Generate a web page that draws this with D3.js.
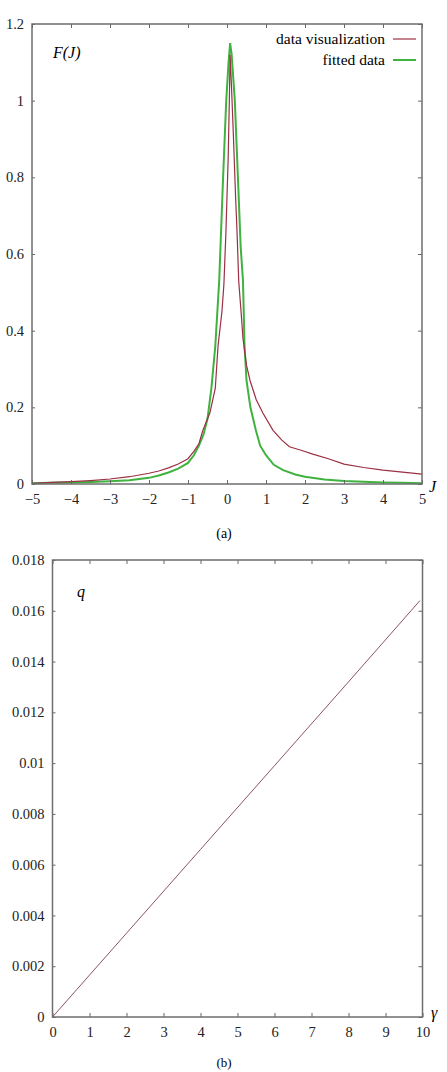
<!DOCTYPE html>
<html>
  <head>
    <meta charset="utf-8">
    <title>F(J) and q</title>
    <script src="https://d3js.org/d3.v7.min.js"></script>
    <style>
      body { margin: 0; background: #fff; }
      svg text { font-family: "Liberation Serif", "DejaVu Serif", serif; }
      .tick line { stroke: #666; }
    </style>
  </head>
  <body>
    <div id="chart"></div>
    <script>
      // panel (a): J positions and F(J) values
      var redJ = [-5, -4.5, -4, -3.5, -3, -2.5, -2, -1.75, -1.5, -1.25, -1, -0.85, -0.72, -0.62, -0.44, -0.3,
                  -0.23, -0.13, -0.08, -0.03, 0.03, 0.06, 0.08, 0.11, 0.16, 0.22, 0.26, 0.3, 0.36, 0.41,
                  0.5, 0.59, 0.75, 0.92, 1.18, 1.4, 1.6, 1.9, 2.2, 2.6, 3, 3.5, 4, 4.5, 5];
      var redF = [0.002, 0.004, 0.006, 0.009, 0.013, 0.019, 0.028, 0.034, 0.042, 0.052, 0.066, 0.085, 0.105, 0.14, 0.185, 0.25,
                  0.36, 0.45, 0.52, 0.65, 0.85, 1.0, 1.12, 1.05, 0.92, 0.75, 0.65, 0.53, 0.45, 0.38,
                  0.31, 0.27, 0.22, 0.185, 0.14, 0.115, 0.097, 0.088, 0.078, 0.066, 0.052, 0.043, 0.036, 0.031, 0.026];
      var greenJ = [-5, -4.5, -4, -3.5, -3, -2.5, -2, -1.75, -1.5, -1.25, -1, -0.85, -0.72, -0.6, -0.5, -0.4,
                    -0.3, -0.2, -0.1, -0.02, 0.04, 0.08, 0.12, 0.2, 0.28, 0.35, 0.41, 0.45, 0.5, 0.6,
                    0.74, 0.85, 1, 1.2, 1.44, 1.75, 2, 2.5, 3, 3.5, 4, 4.5, 5];
      var greenF = [0.002, 0.003, 0.004, 0.005, 0.007, 0.010, 0.016, 0.022, 0.030, 0.040, 0.055, 0.075, 0.10, 0.13, 0.17, 0.25,
                    0.36, 0.53, 0.80, 1.0, 1.1, 1.15, 1.12, 1.0, 0.8, 0.62, 0.53, 0.36, 0.27, 0.2,
                    0.14, 0.10, 0.075, 0.05, 0.036, 0.025, 0.019, 0.012, 0.008, 0.006, 0.004, 0.003, 0.002];
      var aXTicks = [-5, -4, -3, -2, -1, 0, 1, 2, 3, 4, 5];
      var aYTicks = [0, 0.2, 0.4, 0.6, 0.8, 1, 1.2];

      // panel (b): q against gamma
      var gamma = [0, 2, 4, 6, 8, 9.93];
      var qVals = [0, 0.0033, 0.0066, 0.0099, 0.0132, 0.0164];
      var bXTicks = [0, 1, 2, 3, 4, 5, 6, 7, 8, 9, 10];
      var bYTicks = [0, 0.002, 0.004, 0.006, 0.008, 0.01, 0.012, 0.014, 0.016, 0.018];

      var serif = "'Liberation Serif', 'DejaVu Serif', serif";

      var svg = d3.select("#chart").append("svg")
          .attr("width", 447)
          .attr("height", 1072)
          .attr("font-family", serif);

      function fmt(d) { return (+d.toFixed(4)).toString().replace("-", "\u2212"); }

      // draws frame + inward ticks on all four sides
      function frame(x, y, xt, yt) {
          var g = svg.append("g");
          var x0 = x.range()[0], x1 = x.range()[1];
          var y0 = y.range()[0], y1 = y.range()[1];
          g.append("g").attr("transform", "translate(0," + y0 + ")")
              .call(d3.axisBottom(x).tickValues(xt).tickSizeInner(-4).tickSizeOuter(0).tickPadding(10).tickFormat(fmt));
          g.append("g").attr("transform", "translate(0," + y1 + ")")
              .call(d3.axisTop(x).tickValues(xt).tickSizeInner(-4).tickSizeOuter(0).tickFormat(""));
          g.append("g").attr("transform", "translate(" + x0 + ",0)")
              .call(d3.axisLeft(y).tickValues(yt).tickSizeInner(-3).tickSizeOuter(0).tickPadding(8).tickFormat(fmt));
          g.append("g").attr("transform", "translate(" + x1 + ",0)")
              .call(d3.axisRight(y).tickValues(yt).tickSizeInner(-4).tickSizeOuter(0).tickFormat(""));
          g.selectAll(".domain").remove();
          g.selectAll("g").attr("font-family", serif).attr("font-size", 14.5);
          g.selectAll(".tick text").attr("fill", "#222");
          g.append("rect")
              .attr("x", x0).attr("y", y1)
              .attr("width", x1 - x0).attr("height", y0 - y1)
              .attr("fill", "none").attr("stroke", "#6e6e6e").attr("stroke-width", 1.5);
          return g;
      }

      // ---- panel (a)
      var xa = d3.scaleLinear().domain([-5, 5]).range([32, 422]);
      var ya = d3.scaleLinear().domain([0, 1.2]).range([484, 24]);

      var lineA = d3.line().x(function(d) { return xa(d[0]); }).y(function(d) { return ya(d[1]); });

      svg.append("path")
          .datum(d3.zip(greenJ, greenF))
          .attr("d", lineA)
          .attr("fill", "none").attr("stroke", "#3fb23f").attr("stroke-width", 2);
      svg.append("path")
          .datum(d3.zip(redJ, redF))
          .attr("d", lineA)
          .attr("fill", "none").attr("stroke", "#9b2f43").attr("stroke-width", 1.2);

      frame(xa, ya, aXTicks, aYTicks);

      svg.append("text").attr("x", 53).attr("y", 58)
          .style("font-size", "16px").style("font-style", "italic").text("F(J)");
      svg.append("text").attr("x", 429).attr("y", 492)
          .style("font-size", "16px").style("font-style", "italic").text("J");

      // legend
      var legend = [["data visualization", "#9b2f43", 1.2], ["fitted data", "#3fb23f", 2]];
      legend.forEach(function(l, i) {
          var yy = 39 + i * 21;
          svg.append("text").attr("x", 385).attr("y", yy + 5)
              .attr("text-anchor", "end").style("font-size", "15.5px").text(l[0]);
          svg.append("line").attr("x1", 393).attr("x2", 416).attr("y1", yy).attr("y2", yy)
              .attr("stroke", l[1]).attr("stroke-width", l[2]);
      });

      svg.append("text").attr("x", 224).attr("y", 538)
          .attr("text-anchor", "middle").style("font-size", "14px").text("(a)");

      // ---- panel (b)
      var xb = d3.scaleLinear().domain([0, 10]).range([52.5, 422.5]);
      var yb = d3.scaleLinear().domain([0, 0.018]).range([1017, 560]);

      svg.append("path")
          .datum(d3.zip(gamma, qVals))
          .attr("d", d3.line().x(function(d) { return xb(d[0]); }).y(function(d) { return yb(d[1]); }))
          .attr("fill", "none").attr("stroke", "#8a5560").attr("stroke-width", 1);

      frame(xb, yb, bXTicks, bYTicks);

      svg.append("text").attr("x", 77).attr("y", 597)
          .style("font-size", "16px").style("font-style", "italic").text("q");
      svg.append("text").attr("x", 431).attr("y", 1018)
          .style("font-size", "16px").style("font-style", "italic").text("γ");

      svg.append("text").attr("x", 224).attr("y", 1067)
          .attr("text-anchor", "middle").style("font-size", "13px").text("(b)");
    </script>
  </body>
</html>
